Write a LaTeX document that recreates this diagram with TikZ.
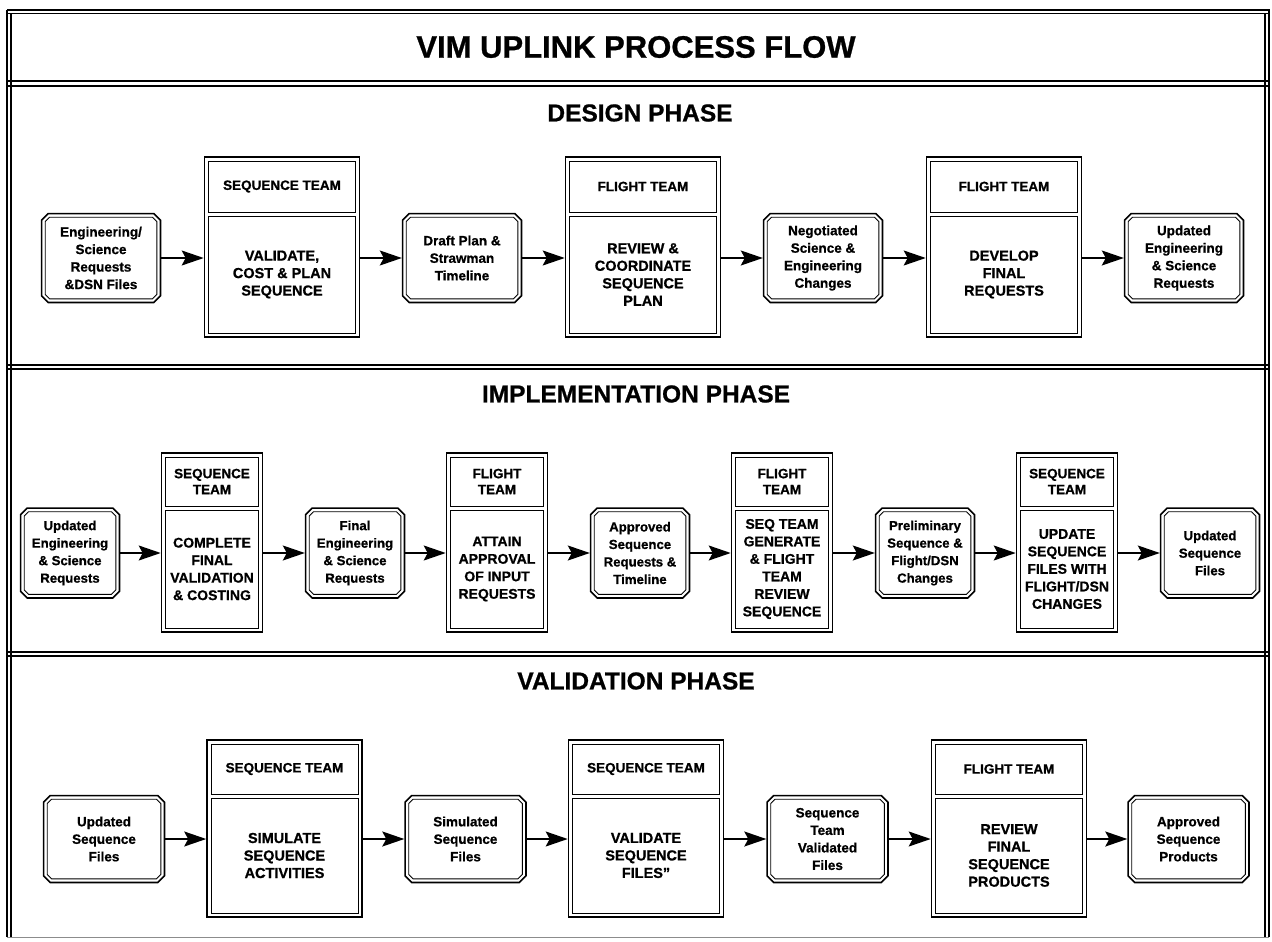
\documentclass[tikz,border=0pt]{standalone}
\usepackage{fontspec}
\setmainfont{Liberation Sans}[BoldFeatures={FakeBold=0.8}]
\usetikzlibrary{arrows.meta,fit}
\newcommand\hdrfont{\fontsize{13.5}{16.5}\selectfont\bfseries}
\newcommand\bdyfont{\fontsize{14.5}{17.5}\selectfont\bfseries}
\newcommand\iofont{\fontsize{13.5}{17.5}\selectfont\bfseries}
% octagon outline around a node: #1 node, #2 inset, #3 chamfer
\newcommand\octpath[3]{([shift={(#3+0.414*#2,-#2)}]#1.north west) -- ([shift={(-#3-0.414*#2,-#2)}]#1.north east) -- ([shift={(-#2,-#3-0.414*#2)}]#1.north east) -- ([shift={(-#2,#3+0.414*#2)}]#1.south east) -- ([shift={(-#3-0.414*#2,#2)}]#1.south east) -- ([shift={(#3+0.414*#2,#2)}]#1.south west) -- ([shift={(#2,#3+0.414*#2)}]#1.south west) -- ([shift={(#2,-#3-0.414*#2)}]#1.north west) -- cycle}
% team box: #1 name, #2 cx, #3 header cy, #4 header h, #5 body cy, #6 body h, #7 inner width, #8 header, #9 body
\newcommand\team[9]{%
  \node[hdr, minimum width=#7pt, minimum height=#4pt] (#1h) at (#2,-#3) {#8};
  \node[bdy, minimum width=#7pt, minimum height=#6pt] (#1b) at (#2,-#5) {#9};
  \node[frm, fit=(#1h)(#1b)] (#1) {};
}
% io box: #1 name, #2 cx, #3 cy, #4 w, #5 h, #6 text
\newcommand\iobox[6]{%
  \node[io, minimum width=#4pt, minimum height=#5pt] (#1) at (#2,-#3) {#6};
  \draw[ioout] \octpath{#1}{0.8}{7};
  \draw[ioin] \octpath{#1}{4.4}{7};
}
\begin{document}
\begin{tikzpicture}[x=1pt,y=1pt,
  hdr/.style={draw, line width=0.9pt, inner sep=0pt, align=center, font=\hdrfont},
  bdy/.style={draw, line width=0.9pt, inner sep=0pt, align=center, font=\bdyfont},
  frm/.style={draw, line width=1.7pt, inner sep=3.5pt},
  io/.style={inner sep=0pt, align=center, font=\iofont},
  ioout/.style={line width=1.7pt},
  ioin/.style={line width=0.9pt},
  conn/.style={line width=1.6pt, -{Stealth[length=22pt,width=15pt,inset=4pt]}},
  rule/.style={line width=1.3pt},
  heading/.style={font=\fontsize{24.5}{28}\selectfont\bfseries},
]
\useasboundingbox (0,0) rectangle (1272,-942);
% frame rules
\draw[rule] (7,-10) -- (1270,-10);
\draw[rule] (7,-13.5) -- (1270,-13.5);
\draw[rule] (7,-10) -- (7,-937);
\draw[rule] (11,-13.5) -- (11,-937);
\draw[rule] (1265,-13.5) -- (1265,-937);
\draw[rule] (1269,-10) -- (1269,-937);
\draw[rule] (7,-81) -- (1269,-81);
\draw[rule] (7,-86) -- (1269,-86);
\draw[rule] (7,-365) -- (1269,-365);
\draw[rule] (7,-369) -- (1269,-369);
\draw[rule] (7,-652) -- (1269,-652);
\draw[rule] (7,-656) -- (1269,-656);
\draw[line width=0.6pt, black!45] (7,-937) -- (1269,-937);
% headings
\node[font=\fontsize{31}{34}\selectfont\bfseries] (title) at (636,-47) {VIM UPLINK PROCESS FLOW};
\node[heading] (hd) at (640,-113) {DESIGN PHASE};
\node[heading] (hi) at (636,-394) {IMPLEMENTATION PHASE};
\node[heading] (hv) at (636,-681) {VALIDATION PHASE};
% ---------------- design phase
\iobox{d1}{101}{258}{120}{90}{Engineering/\\Science\\Requests\\\&DSN Files}
\team{dt1}{282}{186.5}{51}{274.5}{117}{147}{SEQUENCE TEAM}{VALIDATE,\\COST \& PLAN\\SEQUENCE}
\iobox{d3}{462}{258}{120}{90}{Draft Plan \&\\Strawman\\Timeline}
\team{dt2}{643}{186.5}{51}{274.5}{117}{147}{FLIGHT TEAM}{REVIEW \&\\COORDINATE\\SEQUENCE\\PLAN}
\iobox{d5}{823}{258}{120}{90}{Negotiated\\Science \&\\Engineering\\Changes}
\team{dt3}{1004}{186.5}{51}{274.5}{117}{147}{FLIGHT TEAM}{DEVELOP\\FINAL\\REQUESTS}
\iobox{d7}{1184}{258}{120}{90}{Updated\\Engineering\\\& Science\\Requests}
\draw[conn] (d1.east) -- (dt1.west |- d1.east);
\draw[conn] (dt1.east |- d3.west) -- (d3.west);
\draw[conn] (d3.east) -- (dt2.west |- d3.east);
\draw[conn] (dt2.east |- d5.west) -- (d5.west);
\draw[conn] (d5.east) -- (dt3.west |- d5.east);
\draw[conn] (dt3.east |- d7.west) -- (d7.west);
% ---------------- implementation phase
\renewcommand\bdyfont{\fontsize{14}{17.5}\selectfont\bfseries}
\renewcommand\iofont{\fontsize{13.2}{17.5}\selectfont\bfseries}
\renewcommand\hdrfont{\fontsize{13.5}{16}\selectfont\bfseries}
\iobox{i1}{70}{553}{100}{91}{Updated\\Engineering\\\& Science\\Requests}
\team{it1}{212}{481.5}{49}{569}{118}{93}{SEQUENCE\\TEAM}{COMPLETE\\FINAL\\VALIDATION\\\& COSTING}
\iobox{i3}{355}{553}{100}{91}{Final\\Engineering\\\& Science\\Requests}
\team{it2}{497}{481.5}{49}{569}{118}{93}{FLIGHT\\TEAM}{ATTAIN\\APPROVAL\\OF INPUT\\REQUESTS}
\iobox{i5}{640}{553}{100}{91}{Approved\\Sequence\\Requests \&\\Timeline}
\team{it3}{782}{481.5}{49}{569}{118}{93}{FLIGHT\\TEAM}{SEQ TEAM\\GENERATE\\\& FLIGHT\\TEAM\\REVIEW\\SEQUENCE}
\iobox{i7}{925}{553}{100}{91}{Preliminary\\Sequence \&\\Flight/DSN\\Changes}
\team{it4}{1067}{481.5}{49}{569}{118}{93}{SEQUENCE\\TEAM}{UPDATE\\SEQUENCE\\FILES WITH\\FLIGHT/DSN\\CHANGES}
\iobox{i9}{1210}{553}{100}{91}{Updated\\Sequence\\Files}
\draw[conn] (i1.east) -- (it1.west |- i1.east);
\draw[conn] (it1.east |- i3.west) -- (i3.west);
\draw[conn] (i3.east) -- (it2.west |- i3.east);
\draw[conn] (it2.east |- i5.west) -- (i5.west);
\draw[conn] (i5.east) -- (it3.west |- i5.east);
\draw[conn] (it3.east |- i7.west) -- (i7.west);
\draw[conn] (i7.east) -- (it4.west |- i7.east);
\draw[conn] (it4.east |- i9.west) -- (i9.west);
% ---------------- validation phase
\renewcommand\bdyfont{\fontsize{14.5}{17.5}\selectfont\bfseries}
\renewcommand\iofont{\fontsize{13.5}{17.5}\selectfont\bfseries}
\renewcommand\hdrfont{\fontsize{13.5}{16.5}\selectfont\bfseries}
\iobox{v1}{104}{839}{122}{88}{Updated\\Sequence\\Files}
\team{vt1}{284.5}{769}{50}{855.5}{115}{147}{SEQUENCE TEAM}{SIMULATE\\SEQUENCE\\ACTIVITIES}
\iobox{v3}{465.5}{839}{122}{88}{Simulated\\Sequence\\Files}
\team{vt2}{646}{769}{50}{855.5}{115}{147}{SEQUENCE TEAM}{VALIDATE\\SEQUENCE\\FILES"}
\iobox{v5}{827.5}{839}{122}{88}{Sequence\\Team\\Validated\\Files}
\team{vt3}{1009}{769}{50}{855.5}{115}{147}{FLIGHT TEAM}{REVIEW\\FINAL\\SEQUENCE\\PRODUCTS}
\iobox{v7}{1188.5}{839}{122}{88}{Approved\\Sequence\\Products}
\draw[conn] (v1.east) -- (vt1.west |- v1.east);
\draw[conn] (vt1.east |- v3.west) -- (v3.west);
\draw[conn] (v3.east) -- (vt2.west |- v3.east);
\draw[conn] (vt2.east |- v5.west) -- (v5.west);
\draw[conn] (v5.east) -- (vt3.west |- v5.east);
\draw[conn] (vt3.east |- v7.west) -- (v7.west);
\end{tikzpicture}
\end{document}
